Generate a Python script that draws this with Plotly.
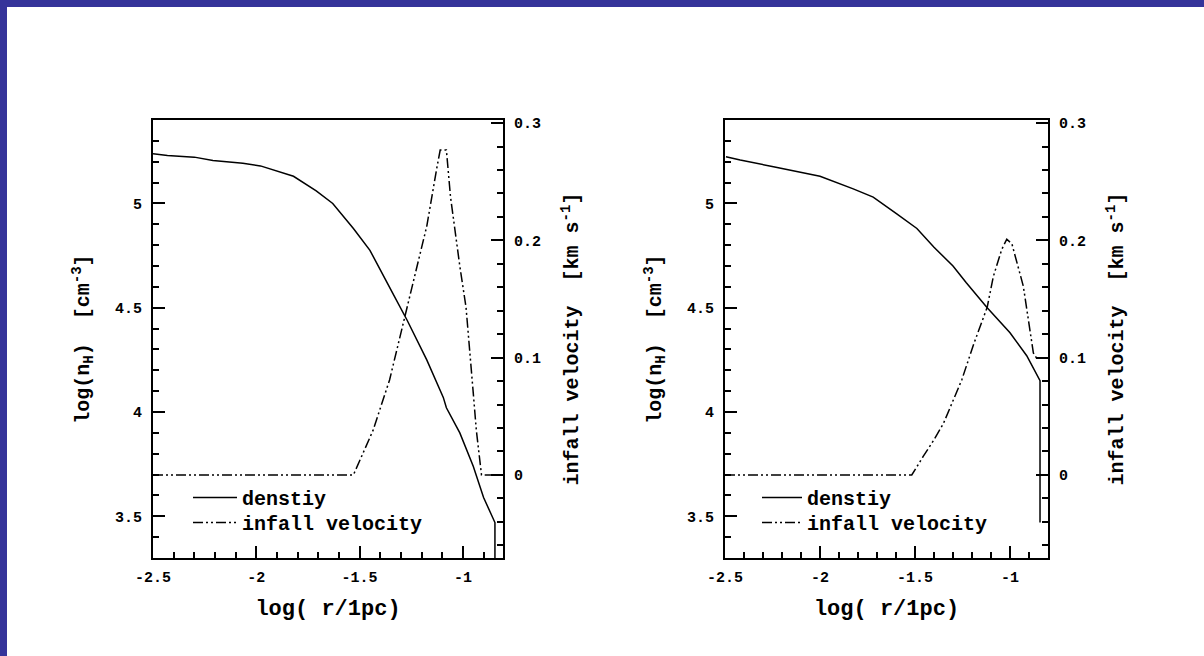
import plotly.graph_objects as go

# ---------------- data ----------------
# Left panel
r_dens_a = [-2.5, -2.43, -2.30, -2.21, -2.065, -1.98, -1.82, -1.71, -1.63, -1.53, -1.45,
            -1.395, -1.34, -1.27, -1.175, -1.095, -1.08, -1.015, -0.95, -0.90, -0.845, -0.845]
n_dens_a = [5.238, 5.23, 5.222, 5.206, 5.193, 5.18, 5.13, 5.06, 5.0, 4.88, 4.775,
            4.67, 4.57, 4.44, 4.25, 4.07, 4.02, 3.90, 3.74, 3.59, 3.47, 3.25]
r_vel_a = [-2.5, -1.53, -1.435, -1.355, -1.27, -1.175, -1.125, -1.11, -1.08, -1.06,
           -1.015, -0.985, -0.95, -0.935, -0.91, -0.806]
v_vel_a = [0.0, 0.0, 0.038, 0.081, 0.143, 0.212, 0.263, 0.277, 0.277, 0.237,
           0.178, 0.143, 0.070, 0.038, 0.0, 0.0]

# Right panel
r_dens_b = [-2.495, -2.42, -2.245, -2.0, -1.825, -1.72, -1.596, -1.49, -1.40, -1.30,
            -1.23, -1.12, -1.0, -0.912, -0.842, -0.842]
n_dens_b = [5.224, 5.208, 5.176, 5.13, 5.07, 5.03, 4.95, 4.88, 4.79, 4.70,
            4.62, 4.50, 4.38, 4.27, 4.15, 3.47]
r_vel_b = [-2.5, -1.517, -1.456, -1.40, -1.35, -1.30, -1.254, -1.19, -1.12, -1.088,
           -1.044, -1.017, -0.99, -0.93, -0.877, -0.86, -0.80]
v_vel_b = [0.0, 0.0, 0.016, 0.030, 0.044, 0.064, 0.081, 0.112, 0.143, 0.169,
           0.192, 0.201, 0.197, 0.161, 0.104, 0.0995, 0.0995]

x_ticks = [-2.5, -2, -1.5, -1]
x_ticktext = ["-2.5", "-2", "-1.5", "-1"]
yl_ticks = [3.5, 4, 4.5, 5]
yl_ticktext = ["3.5", "4", "4.5", "5"]
yr_ticks = [0, 0.1, 0.2, 0.3]
yr_ticktext = ["0", "0.1", "0.2", "0.3"]

legend_names = ["denstiy", "infall velocity"]
x_title = "log( r/1pc)"
yl_title = "log(n<sub>H</sub>)  [cm<sup>-3</sup>]"
yr_title = "infall velocity  [km s<sup>-1</sup>]"

# ---------------- style ----------------
FONT = "Liberation Mono"
W, H = 1204, 656
BLUE = "#35349a"
dash_vel = "10px,3px,2px,3px,2px,3px"

fig = go.Figure()

fig.add_trace(go.Scatter(x=r_dens_a, y=n_dens_a, mode="lines", name=legend_names[0],
                         line=dict(color="black", width=1.5), xaxis="x", yaxis="y",
                         legend="legend"))
fig.add_trace(go.Scatter(x=r_vel_a, y=v_vel_a, mode="lines", name=legend_names[1],
                         line=dict(color="black", width=1.5, dash=dash_vel),
                         xaxis="x", yaxis="y2", legend="legend2"))
fig.add_trace(go.Scatter(x=r_dens_b, y=n_dens_b, mode="lines", name=legend_names[0],
                         line=dict(color="black", width=1.5), xaxis="x2", yaxis="y3",
                         legend="legend3"))
fig.add_trace(go.Scatter(x=r_vel_b, y=v_vel_b, mode="lines", name=legend_names[1],
                         line=dict(color="black", width=1.5, dash=dash_vel),
                         xaxis="x2", yaxis="y4", legend="legend4"))

tickfont = dict(family=FONT, size=15, color="black", weight="bold")
titlefont = dict(family=FONT, size=20, color="black", weight="bold")

def xaxis(domain, rng, anchor):
    return dict(domain=domain, range=rng, anchor=anchor, automargin=False,
                tickvals=x_ticks, ticktext=x_ticktext,
                ticks="inside", ticklen=12, tickwidth=1.5, tickcolor="black",
                minor=dict(ticks="inside", ticklen=6, tickwidth=1.5, tickcolor="black",
                           dtick=0.1, tick0=-2.5, showgrid=False),
                showline=True, linewidth=2, linecolor="black", mirror=True,
                showgrid=False, zeroline=False, tickfont=tickfont,
                ticklabelstandoff=4,
                title=dict(text=x_title,
                           font=dict(family=FONT, size=22, color="black", weight="bold"),
                           standoff=14))

def yleft(domain, anchor):
    return dict(domain=domain, range=[3.3, 5.4], anchor=anchor, automargin=False,
                tickvals=yl_ticks, ticktext=yl_ticktext,
                ticks="inside", ticklen=12, tickwidth=1.5, tickcolor="black",
                minor=dict(ticks="inside", ticklen=6, tickwidth=1.5, tickcolor="black",
                           dtick=0.1, tick0=3.3, showgrid=False),
                showline=True, linewidth=2, linecolor="black",
                showgrid=False, zeroline=False, tickfont=tickfont,
                ticklabelstandoff=6,
                title=dict(text=yl_title, font=titlefont, standoff=20))

def yright(overlay, anchor):
    return dict(overlaying=overlay, anchor=anchor, side="right", automargin=False,
                range=[-0.0708, 0.3026],
                tickvals=yr_ticks, ticktext=yr_ticktext,
                ticks="inside", ticklen=12, tickwidth=1.5, tickcolor="black",
                minor=dict(ticks="inside", ticklen=6, tickwidth=1.5, tickcolor="black",
                           dtick=0.02, tick0=0, showgrid=False),
                showline=True, linewidth=2, linecolor="black",
                showgrid=False, zeroline=False, tickfont=tickfont,
                ticklabelstandoff=6,
                title=dict(text=yr_title, font=titlefont, standoff=24))

ydom = [1 - 558 / H, 1 - 120 / H]

def legend_box(x_px, y_px, item_w):
    return dict(font=dict(family=FONT, size=20, color="black", weight="bold"),
                bgcolor="rgba(0,0,0,0)", borderwidth=0, itemwidth=item_w,
                xanchor="left", yanchor="top", x=x_px / W, y=1 - y_px / H)

fig.update_layout(
    width=W, height=H,
    margin=dict(l=0, r=0, t=0, b=0, autoexpand=False),
    paper_bgcolor="white", plot_bgcolor="white",
    showlegend=True,
    xaxis=xaxis([153 / W, 503 / W], [-2.5, -0.806], "y"),
    yaxis=yleft(ydom, "x"),
    yaxis2=yright("y", "x"),
    xaxis2=xaxis([725 / W, 1048 / W], [-2.5, -0.8], "y3"),
    yaxis3=yleft(ydom, "x2"),
    yaxis4=yright("y3", "x2"),
    legend=legend_box(188, 478, 44),
    legend2=legend_box(188, 503, 44),
    legend3=legend_box(757, 478, 40),
    legend4=legend_box(757, 503, 40),
    shapes=[
        dict(type="rect", xref="paper", yref="paper", x0=0, x1=1, y0=1 - 7 / H, y1=1,
             fillcolor=BLUE, line=dict(width=0), layer="above"),
        dict(type="rect", xref="paper", yref="paper", x0=0, x1=7 / W, y0=0, y1=1,
             fillcolor=BLUE, line=dict(width=0), layer="above"),
    ],
)

fig.write_html("out.html")
